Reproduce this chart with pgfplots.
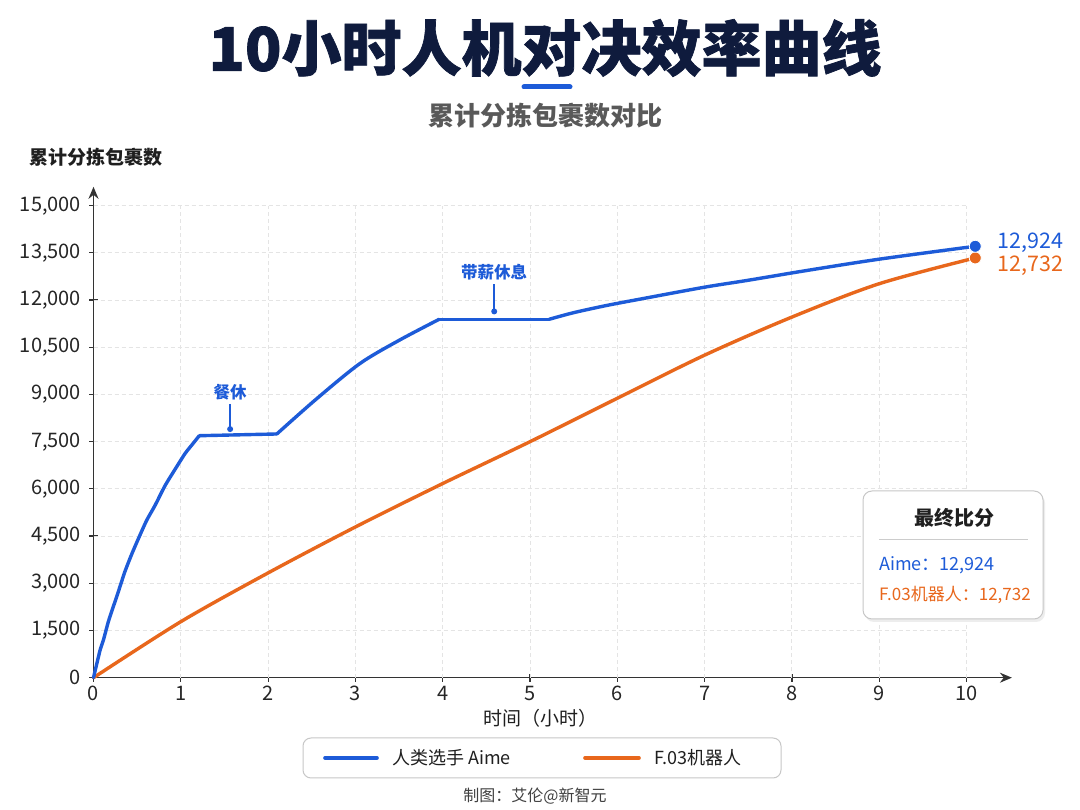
\documentclass[border=0pt]{standalone}
\usepackage{fontspec}
\setmainfont{Noto Sans CJK SC}
\newfontfamily\titlefont{Noto Sans CJK SC}[BoldFeatures={FakeBold=1.2}]
\usepackage{pgfplots}
\pgfplotsset{compat=1.18}
\usetikzlibrary{arrows.meta}
\definecolor{cblue}{HTML}{1D5BD8}
\definecolor{corange}{HTML}{E8671C}
\definecolor{navy}{HTML}{0F1B3D}
\definecolor{axisgray}{HTML}{333333}
\definecolor{gridc}{HTML}{E4E4E4}
\newcommand{\fs}[1]{\fontsize{#1bp}{#1bp}\selectfont}
\begin{document}
\begin{tikzpicture}
\useasboundingbox[fill=white] (0,0) rectangle (1080bp,810bp);
\begin{axis}[
  at={(93.5bp,132.3bp)}, anchor=south west,
  scale only axis, width=918.4bp, height=490.9bp,
  xmin=0, xmax=10.52, ymin=0, ymax=15600,
  clip=false,
  axis lines=left,
  axis line style={draw=axisgray, line width=1.5bp, -{Stealth[length=12bp,width=10bp]}},
  xtick={0,1,...,10},
  ytick={0,1500,3000,4500,6000,7500,9000,10500,12000,13500,15000},
  yticklabels={0,{1,500},{3,000},{4,500},{6,000},{7,500},{9,000},{10,500},{12,000},{13,500},{15,000}},
  scaled y ticks=false, scaled x ticks=false,
  major tick length=8bp, tick align=center,
  tick style={draw=axisgray, line width=1.2bp},
  /pgf/number format/assume math mode=true,
  tick label style={font=\fs{20}, text=black!85},
  yticklabel style={xshift=-5bp},
  xticklabel style={yshift=-1bp},
]
\pgfplotsinvokeforeach{1,2,...,10}{
  \draw[gridc, dash pattern=on 4bp off 3bp, line width=0.9bp] (axis cs:#1,0) -- (axis cs:#1,15000);
}
\pgfplotsinvokeforeach{1500,3000,4500,6000,7500,9000,10500,12000,13500,15000}{
  \draw[gridc, dash pattern=on 4bp off 3bp, line width=0.9bp] (axis cs:0,#1) -- (axis cs:10,#1);
}
% F.03 robot
\addplot[corange, line width=3.4bp, smooth, tension=0.5, line cap=round] coordinates {
(0,0) (1,1780) (2,3330) (3,4790) (4,6170) (5,7500) (6,8880) (7,10250) (8,11460) (9,12520) (10.1,13340)
};
% Human Aime: work, lunch break, work, paid rest, work
\addplot[cblue, line width=3.4bp, smooth, tension=0.4, line cap=round] coordinates {
(0,0) (0.074,860) (0.113,1190) (0.17,1780) (0.208,2100) (0.284,2730) (0.361,3380)
(0.437,3920) (0.513,4410) (0.609,5000) (0.704,5470) (0.819,6100) (0.934,6620)
(1.048,7120) (1.125,7390) (1.212,7690)
};
\addplot[cblue, line width=3.4bp, line cap=round] coordinates {(1.212,7690) (2.10,7745)};
\addplot[cblue, line width=3.4bp, smooth, tension=0.5, line cap=round] coordinates {
(2.10,7745) (2.55,8850) (3.05,9980) (3.5,10720) (3.96,11390)
};
\addplot[cblue, line width=3.4bp, line cap=round] coordinates {(3.96,11390) (5.22,11390)};
\addplot[cblue, line width=3.4bp, smooth, tension=0.5, line cap=round] coordinates {
(5.22,11390) (5.5,11600) (5.88,11830) (6.26,12030) (7,12410) (7.5,12630) (8.17,12940) (9,13300) (10.1,13710)
};
\addplot[only marks, mark=*, mark size=6bp, corange, mark options={draw=white, line width=0.8bp}] coordinates {(10.1,13340)};
\addplot[only marks, mark=*, mark size=6bp, cblue, mark options={draw=white, line width=0.8bp}] coordinates {(10.1,13710)};
% annotations
\coordinate (a1top) at (axis cs:1.565,8700);
\coordinate (a1bot) at (axis cs:1.565,7900);
\coordinate (a1txt) at (axis cs:1.565,9080);
\coordinate (a2top) at (axis cs:4.59,12500);
\coordinate (a2bot) at (axis cs:4.59,11640);
\coordinate (a2txt) at (axis cs:4.59,12890);
\end{axis}
\draw[cblue, line width=1.6bp] (a1top) -- (a1bot);
\fill[cblue] (a1bot) circle[radius=3bp];
\node[cblue, font=\fs{16.5}\bfseries] at (a1txt) {餐休};
\draw[cblue, line width=1.6bp] (a2top) -- (a2bot);
\fill[cblue] (a2bot) circle[radius=3bp];
\node[cblue, font=\fs{16.5}\bfseries] at (a2txt) {带薪休息};
% titles
\node[navy, font=\fs{60}\titlefont\bfseries] at (545bp,762bp) {10小时人机对决效率曲线};
\draw[cblue, line width=5bp, line cap=round] (524bp,723bp) -- (570bp,723bp);
\node[black!65, font=\fs{26}\bfseries] at (545bp,694bp) {累计分拣包裹数对比};
\node[black!88, font=\fs{19}\bfseries, inner sep=0pt] at (96bp,653bp) {累计分拣包裹数};
\node[black!88, font=\fs{19}] at (540bp,92bp) {时间（小时）};
% end labels
\node[cblue, font=\fs{21.5}, anchor=west] at (994bp,567bp) {12,924};
\node[corange, font=\fs{21.5}, anchor=west] at (994bp,544bp) {12,732};
% score box
\fill[black!7, rounded corners=9bp] (865bp,316bp) rectangle (1045bp,188bp);
\draw[black!22, line width=1bp, fill=white, rounded corners=9bp] (863bp,319bp) rectangle (1043bp,191bp);
\node[black!88, font=\fs{20}\bfseries] at (954bp,292bp) {最终比分};
\draw[black!20, line width=1bp] (879bp,270bp) -- (1028bp,270bp);
\node[cblue, font=\fs{18}, anchor=west, inner sep=0pt] at (879bp,245bp) {Aime：12,924};
\node[corange, font=\fs{17}, anchor=west, inner sep=0pt] at (879bp,215bp) {F.03机器人：12,732};
% legend
\draw[black!22, line width=1bp, fill=white, rounded corners=8bp] (303bp,72bp) rectangle (781bp,32bp);
\draw[cblue, line width=3.6bp, line cap=round] (325bp,52bp) -- (377bp,52bp);
\node[black!88, font=\fs{18}, anchor=west, inner sep=0pt] at (392bp,52bp) {人类选手 Aime};
\draw[corange, line width=3.6bp, line cap=round] (585bp,52bp) -- (639bp,52bp);
\node[black!88, font=\fs{18}, anchor=west, inner sep=0pt] at (654bp,52bp) {F.03机器人};
% footer
\node[black!75, font=\fs{16}] at (535bp,14bp) {制图：艾伦@新智元};
\end{tikzpicture}
\end{document}
